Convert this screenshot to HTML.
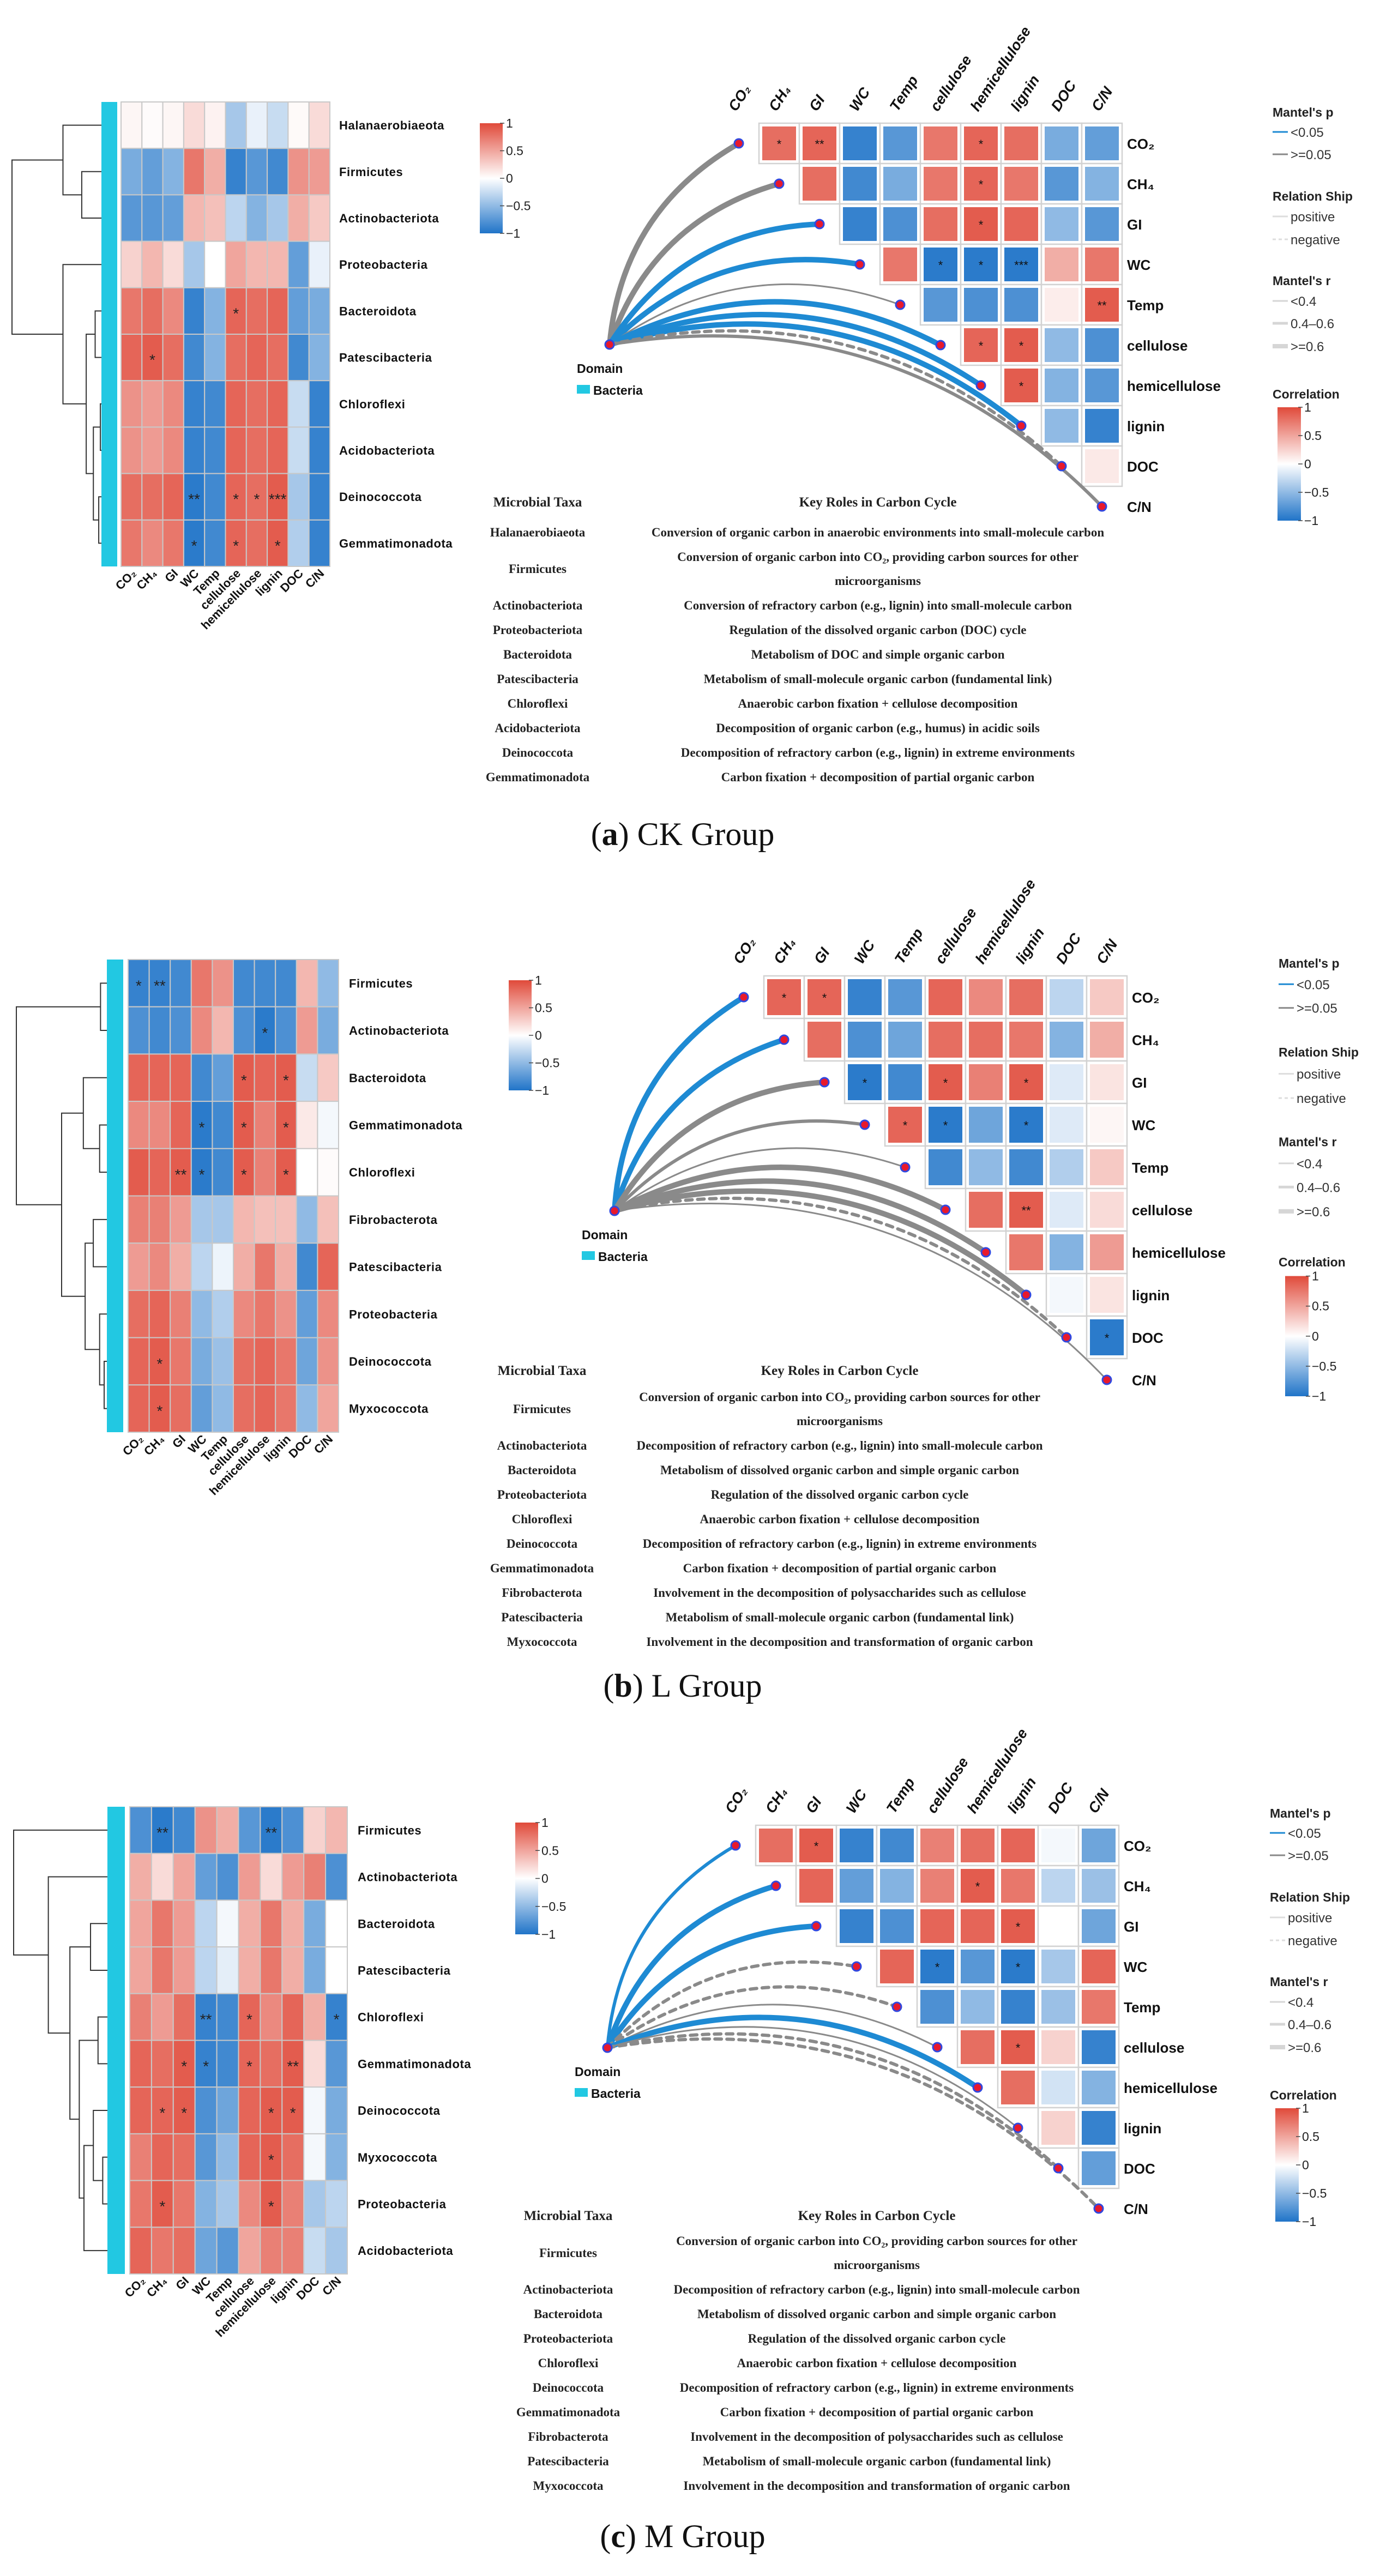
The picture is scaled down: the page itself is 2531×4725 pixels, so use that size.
<!DOCTYPE html>
<html><head><meta charset="utf-8">
<style>
html,body{margin:0;padding:0;background:#fff;}
svg{display:block;}
text{font-family:"Liberation Sans","DejaVu Sans",sans-serif;}
.serif{font-family:"Liberation Serif","DejaVu Serif",serif;}
</style></head>
<body>
<svg id="fig" xmlns="http://www.w3.org/2000/svg" width="2531" height="4725" viewBox="0 0 2531 4725"></svg>
<script>
// ---------- DATA ----------
const envCols = ["CO₂","CH₄","GI","WC","Temp","cellulose","hemicellulose","lignin","DOC","C/N"];

const taxaA = ["Halanaerobiaeota","Firmicutes","Actinobacteriota","Proteobacteria","Bacteroidota","Patescibacteria","Chloroflexi","Acidobacteriota","Deinococcota","Gemmatimonadota"];
const heatA = [
 [0.05,0.02,0.05,0.2,0.07,-0.4,-0.1,-0.25,0.03,0.2],
 [-0.6,-0.7,-0.55,0.75,0.45,-0.9,-0.75,-0.85,0.6,0.55],
 [-0.75,-0.75,-0.7,0.4,0.35,-0.3,-0.55,-0.4,0.45,0.3],
 [0.25,0.4,0.2,-0.4,0.0,0.5,0.4,0.4,-0.7,-0.1],
 [0.75,0.8,0.65,-0.9,-0.55,0.85,0.8,0.85,-0.7,-0.6],
 [0.85,0.9,0.8,-0.85,-0.55,0.8,0.85,0.8,-0.85,-0.55],
 [0.6,0.55,0.65,-0.9,-0.85,0.85,0.8,0.85,-0.25,-0.9],
 [0.6,0.55,0.65,-0.9,-0.85,0.85,0.8,0.85,-0.25,-0.9],
 [0.8,0.8,0.85,-0.95,-0.85,0.85,0.8,0.9,-0.4,-0.9],
 [0.75,0.65,0.75,-0.95,-0.85,0.85,0.8,0.9,-0.35,-0.9]];
const heatStarsA = [[4,5,"*"],[5,1,"*"],[8,3,"**"],[8,5,"*"],[8,6,"*"],[8,7,"***"],[9,3,"*"],[9,5,"*"],[9,7,"*"]];

const taxaB = ["Firmicutes","Actinobacteriota","Bacteroidota","Gemmatimonadota","Chloroflexi","Fibrobacterota","Patescibacteria","Proteobacteria","Deinococcota","Myxococcota"];
const heatB = [
 [-0.9,-0.9,-0.85,0.75,0.6,-0.85,-0.85,-0.85,0.4,-0.5],
 [-0.8,-0.85,-0.8,0.65,0.4,-0.8,-0.95,-0.8,0.55,-0.6],
 [0.85,0.85,0.85,-0.85,-0.7,0.9,0.85,0.9,-0.25,0.3],
 [0.65,0.65,0.85,-0.95,-0.85,0.9,0.7,0.9,0.12,-0.05],
 [0.9,0.85,0.9,-0.95,-0.85,0.9,0.7,0.9,0.0,0.02],
 [0.7,0.7,0.55,-0.4,-0.4,0.4,0.35,0.35,-0.5,0.35],
 [0.55,0.65,0.45,-0.3,-0.08,0.45,0.75,0.45,-0.85,0.85],
 [0.8,0.85,0.7,-0.5,-0.35,0.65,0.75,0.6,-0.7,0.65],
 [0.85,0.9,0.75,-0.6,-0.45,0.8,0.85,0.75,-0.65,0.6],
 [0.85,0.9,0.8,-0.7,-0.5,0.8,0.85,0.75,-0.5,0.5]];
const heatStarsB = [[0,0,"*"],[0,1,"**"],[1,6,"*"],[2,5,"*"],[2,7,"*"],[3,3,"*"],[3,5,"*"],[3,7,"*"],[4,2,"**"],[4,3,"*"],[4,5,"*"],[4,7,"*"],[8,1,"*"],[9,1,"*"]];

const taxaC = ["Firmicutes","Actinobacteriota","Bacteroidota","Patescibacteria","Chloroflexi","Gemmatimonadota","Deinococcota","Myxococcota","Proteobacteria","Acidobacteriota"];
const heatC = [
 [-0.8,-0.95,-0.85,0.6,0.45,-0.75,-0.95,-0.8,0.25,0.4],
 [0.45,0.2,0.5,-0.7,-0.8,0.55,0.2,0.55,0.7,-0.8],
 [0.5,0.75,0.55,-0.3,-0.05,0.45,0.75,0.45,-0.6,0.0],
 [0.5,0.75,0.55,-0.3,-0.12,0.45,0.75,0.45,-0.6,0.0],
 [0.7,0.55,0.8,-0.9,-0.85,0.85,0.65,0.85,0.45,-0.9],
 [0.85,0.8,0.9,-0.9,-0.85,0.85,0.8,0.9,0.2,-0.75],
 [0.85,0.85,0.9,-0.8,-0.65,0.85,0.9,0.9,-0.05,-0.6],
 [0.7,0.85,0.8,-0.75,-0.5,0.85,0.9,0.8,-0.05,-0.55],
 [0.75,0.9,0.75,-0.55,-0.4,0.65,0.9,0.7,-0.4,-0.3],
 [0.85,0.75,0.8,-0.65,-0.75,0.5,0.7,0.7,-0.25,-0.4]];
const heatStarsC = [[0,1,"**"],[0,6,"**"],[4,3,"**"],[4,5,"*"],[4,9,"*"],[5,2,"*"],[5,3,"*"],[5,5,"*"],[5,7,"**"],[6,1,"*"],[6,2,"*"],[6,6,"*"],[6,7,"*"],[7,6,"*"],[8,1,"*"],[8,6,"*"]];

const treeA = [1,[0.43,0,[0.22,1,2]],[0.43,3,[0.17,[0.07,4,5],[0.09,[0.012,6,7],[0.03,8,9]]]]];
const treeB = [1,[0.07,0,1],[0.5,[0.26,2,[0.08,3,4]],[0.24,[0.15,5,6],[0.08,7,[0.03,8,9]]]]];
const treeC = [1,0,[0.63,1,[0.4,[0.18,2,3],[0.3,[0.1,4,5],[0.25,[0.15,6,[0.05,7,8]],9]]]]];

const triA = [
 [0.8,0.85,-0.9,-0.75,0.75,0.85,0.8,-0.6,-0.7],
 [0.8,-0.85,-0.6,0.75,0.85,0.75,-0.75,-0.55],
 [-0.9,-0.8,0.8,0.9,0.85,-0.5,-0.75],
 [0.75,-0.95,-0.95,-0.95,0.45,0.75],
 [-0.75,-0.8,-0.8,0.1,0.9],
 [0.85,0.9,-0.5,-0.8],
 [0.9,-0.55,-0.75],
 [-0.5,-0.9],
 [0.12]];
const triStarsA = [[0,1,"*"],[0,2,"**"],[0,6,"*"],[1,6,"*"],[2,6,"*"],[3,5,"*"],[3,6,"*"],[3,7,"***"],[4,9,"**"],[5,6,"*"],[5,7,"*"],[6,7,"*"]];
const triB = [
 [0.85,0.85,-0.9,-0.75,0.85,0.65,0.8,-0.3,0.3],
 [0.8,-0.8,-0.65,0.8,0.8,0.75,-0.55,0.45],
 [-0.95,-0.85,0.9,0.7,0.9,-0.15,0.15],
 [0.85,-0.95,-0.65,-0.95,-0.15,0.05],
 [-0.85,-0.5,-0.85,-0.35,0.3],
 [0.8,0.9,-0.15,0.2],
 [0.75,-0.55,0.55],
 [-0.05,0.15],
 [-0.95]];
const triStarsB = [[0,1,"*"],[0,2,"*"],[2,3,"*"],[2,5,"*"],[2,7,"*"],[3,4,"*"],[3,5,"*"],[3,7,"*"],[5,7,"**"],[8,9,"*"]];
const triC = [
 [0.8,0.9,-0.9,-0.85,0.7,0.8,0.85,-0.05,-0.65],
 [0.85,-0.7,-0.55,0.7,0.9,0.75,-0.3,-0.45],
 [-0.9,-0.8,0.85,0.85,0.9,0.0,-0.65],
 [0.85,-0.95,-0.75,-0.95,-0.4,0.85],
 [-0.8,-0.5,-0.9,-0.45,0.75],
 [0.8,0.9,0.25,-0.9],
 [0.8,-0.2,-0.55],
 [0.25,-0.9],
 [-0.7]];
const triStarsC = [[0,2,"*"],[1,6,"*"],[2,7,"*"],[3,5,"*"],[3,7,"*"],[5,7,"*"]];

const sigA = [0,0,1,1,0,1,1,1,0,0];
const rclsA = [2,2,2,2,0,2,2,2,1,1];
const negA = [0,0,0,0,0,0,0,0,1,0];
const sigB = [1,1,0,0,0,0,0,0,0,0];
const rclsB = [2,2,2,1,0,2,2,2,1,0];
const negB = [0,0,0,0,0,0,0,0,1,0];
const sigC = [1,1,1,0,0,0,1,0,0,0];
const rclsC = [1,2,2,1,1,0,2,0,1,1];
const negC = [0,0,0,1,1,0,0,0,1,1];

const tableTaxaA = ["Halanaerobiaeota","Firmicutes","Actinobacteriota","Proteobacteriota","Bacteroidota","Patescibacteria","Chloroflexi","Acidobacteriota","Deinococcota","Gemmatimonadota"];
const tableRolesA = ["Conversion of organic carbon in anaerobic environments into small-molecule carbon",
 "Conversion of organic carbon into CO₂, providing carbon sources for other|microorganisms",
 "Conversion of refractory carbon (e.g., lignin) into small-molecule carbon",
 "Regulation of the dissolved organic carbon (DOC) cycle",
 "Metabolism of DOC and simple organic carbon",
 "Metabolism of small-molecule organic carbon (fundamental link)",
 "Anaerobic carbon fixation + cellulose decomposition",
 "Decomposition of organic carbon (e.g., humus) in acidic soils",
 "Decomposition of refractory carbon (e.g., lignin) in extreme environments",
 "Carbon fixation + decomposition of partial organic carbon"];
const tableTaxaBC = ["Firmicutes","Actinobacteriota","Bacteroidota","Proteobacteriota","Chloroflexi","Deinococcota","Gemmatimonadota","Fibrobacterota","Patescibacteria","Myxococcota"];
const tableRolesBC = ["Conversion of organic carbon into CO₂, providing carbon sources for other|microorganisms",
 "Decomposition of refractory carbon (e.g., lignin) into small-molecule carbon",
 "Metabolism of dissolved organic carbon and simple organic carbon",
 "Regulation of the dissolved organic carbon cycle",
 "Anaerobic carbon fixation + cellulose decomposition",
 "Decomposition of refractory carbon (e.g., lignin) in extreme environments",
 "Carbon fixation + decomposition of partial organic carbon",
 "Involvement in the decomposition of polysaccharides such as cellulose",
 "Metabolism of small-molecule organic carbon (fundamental link)",
 "Involvement in the decomposition and transformation of organic carbon"];
const colorbarTicks = ["1","0.5","0","−0.5","−1"];

// ---------- DRAWING ----------
const NS = "http://www.w3.org/2000/svg";
const svg = document.getElementById("fig");
function mk(tag, attrs, parent){
  const e = document.createElementNS(NS, tag);
  for (const k in attrs) e.setAttribute(k, attrs[k]);
  (parent || svg).appendChild(e);
  return e;
}
function txt(str, attrs, parent){
  const e = mk("text", attrs, parent);
  e.textContent = str;
  return e;
}
function color(v){
  v = Math.max(-1, Math.min(1, v));
  const c = v >= 0 ? [224,74,58] : [32,116,200];
  const t = Math.abs(v);
  return "rgb(" + c.map(x => Math.round(255 + (x - 255) * t)).join(",") + ")";
}
let gid = 0;
function gradient(){
  let defs = svg.querySelector("defs");
  if (!defs) defs = mk("defs", {});
  const id = "cg" + (gid++);
  const g = mk("linearGradient", {id: id, x1: 0, y1: 0, x2: 0, y2: 1}, defs);
  [1, 0.5, 0, -0.5, -1].forEach((v, i) => mk("stop", {offset: (i * 25) + "%", "stop-color": color(v)}, g));
  return id;
}
function colorbar(x, y0, y1, w, parent, name){
  const g = mk("g", {}, parent);
  
  
  const id = gradient();
  const r = mk("rect", {x: x, y: y0, width: w, height: y1 - y0, fill: "url(#" + id + ")"}, g);
  
  
  colorbarTicks.forEach((t, i) => {
    const ty = y0 + (y1 - y0) * i / (colorbarTicks.length - 1);
    const tk = mk("line", {x1: x + w - 5, x2: x + w + 3, y1: ty, y2: ty, stroke: "#444", "stroke-width": 1.5}, g);
    
    
    const tl = txt(t, {x: x + w + 6, y: ty + 8, "font-size": 23, fill: "#222"}, g);
    
    
  });
}

function drawHeat(cfg, rows, vals, stars, tree, tag){
  const g = mk("g", {});
  
  
  const nR = rows.length, nC = envCols.length;
  const cw = (cfg.x1 - cfg.x0) / nC, ch = (cfg.y1 - cfg.y0) / nR;
  const strip = mk("rect", {x: cfg.s0, y: cfg.y0, width: cfg.s1 - cfg.s0, height: cfg.y1 - cfg.y0, fill: "#22C8E2"}, g);
  
  
  vals.forEach((row, i) => row.forEach((v, j) => {
    const c = mk("rect", {x: cfg.x0 + j * cw, y: cfg.y0 + i * ch, width: cw, height: ch, fill: color(v), stroke: "#c8c8c8", "stroke-width": 2}, g);
    
    
  }));
  stars.forEach(s => {
    const st = txt(s[2], {x: cfg.x0 + (s[1] + 0.5) * cw, y: cfg.y0 + (s[0] + 0.5) * ch + 14, "font-size": 28, "text-anchor": "middle", fill: "#222"}, g);
    
    
  });
  rows.forEach((r, i) => {
    const t = txt(r, {x: cfg.lx, y: cfg.y0 + (i + 0.5) * ch + 8, "font-size": 22, "font-weight": "bold", fill: "#111", "letter-spacing": "0.6"}, g);
    
    
  });
  envCols.forEach((c, j) => {
    const cx = cfg.x0 + (j + 0.5) * cw + 10, cy = cfg.y1 + 14;
    const t = txt(c, {x: cx, y: cy, "font-size": 22, "font-weight": "bold", "text-anchor": "end", fill: "#111", transform: "rotate(-45 " + cx + " " + cy + ")"}, g);
    
    
  });
  const span = cfg.s0 - cfg.dl;
  function rec(node){
    if (typeof node === "number") return {x: cfg.s0, y: cfg.y0 + (node + 0.5) * ch};
    const a = rec(node[1]), b = rec(node[2]);
    const x = cfg.s0 - node[0] * span;
    const p = mk("path", {d: "M" + a.x + "," + a.y + "H" + x + "V" + b.y + "H" + b.x, fill: "none", stroke: "#333", "stroke-width": 2}, g);
    
    
    return {x: x, y: (a.y + b.y) / 2};
  }
  rec(tree);
  colorbar(cfg.cbx, cfg.cby0, cfg.cby1, 42, g, 'heatmap-colorbar-' + tag);
}

function drawTri(cfg, tri, tstars, sig, rcls, neg, tag){
  const g = mk("g", {});
  
  
  const gl = cfg.gl, gt = cfg.gt, cw = cfg.cw, ch = cfg.ch;
  tri.forEach((row, i) => row.forEach((v, k) => {
    const j = i + 1 + k;
    const x = gl + (j - 1) * cw, y = gt + i * ch;
    const o = mk("rect", {x: x, y: y, width: cw, height: ch, fill: "#fff", stroke: "#d2d2d2", "stroke-width": 2.5}, g);
    
    
    const c = mk("rect", {x: x + 6, y: y + 6, width: cw - 12, height: ch - 12, fill: color(v)}, g);
    
    
  }));
  tstars.forEach(s => {
    const x = gl + (s[1] - 1 + 0.5) * cw, y = gt + (s[0] + 0.5) * ch + 9;
    const st = txt(s[2], {x: x, y: y, "font-size": 22, "text-anchor": "middle", fill: "#111"}, g);
    
    
  });
  envCols.forEach((c, i) => {
    const t = txt(c, {x: gl + 9 * cw + 9, y: gt + (i + 0.5) * ch + 10, "font-size": 26, "font-weight": "bold", fill: "#111"}, g);
    
    
    const cx = gl - 42 + cw * i, cy = gt - 20;
    const t2 = txt(c, {x: cx, y: cy, "font-size": 27, "font-weight": "bold", "font-style": "italic", fill: "#111", transform: "rotate(-57 " + cx + " " + cy + ")"}, g);
    
    
  });
  const D = cfg.dom;
  const widths = [3, 6, 10];
  envCols.forEach((c, i) => {
    const ex = gl + cw * i - cw / 2, ey = gt + ch * i + ch / 2;
    const dx = ex - D.x, dy = ey - D.y, k = 0.26;
    const cx = (D.x + ex) / 2 + k * dy, cy = (D.y + ey) / 2 - k * dx;
    const p = mk("path", {d: "M" + D.x + "," + D.y + "Q" + cx + "," + cy + " " + ex + "," + ey, fill: "none",
      stroke: sig[i] ? "#1E8AD3" : "#8a8a8a", "stroke-width": widths[rcls[i]], "stroke-linecap": "round",
      "stroke-dasharray": neg[i] ? "12 10" : "none"}, g);
    
    
  });
  envCols.forEach((c, i) => {
    const ex = gl + cw * i - cw / 2, ey = gt + ch * i + ch / 2;
    const d = mk("circle", {cx: ex, cy: ey, r: 8, fill: "#E8192C", stroke: "#3048E0", "stroke-width": 3}, g);
    
    
  });
  const dd = mk("circle", {cx: D.x, cy: D.y, r: 8, fill: "#E8192C", stroke: "#3048E0", "stroke-width": 3}, g);
  
  
  const dl = txt("Domain", {x: D.x - 60, y: D.y + 52, "font-size": 23, "font-weight": "bold", fill: "#111"}, g);
  
  
  const sq = mk("rect", {x: D.x - 60, y: D.y + 74, width: 24, height: 16, fill: "#22C8E2"}, g);
  
  
  const bl = txt("Bacteria", {x: D.x - 30, y: D.y + 92, "font-size": 23, "font-weight": "bold", fill: "#111"}, g);
  
  

  const L = cfg.leg, y0 = L.y, s = L.s;
  const lg = mk("g", {}, g);
  
  
  const heads = [["Mantel's p", 0], ["Relation Ship", 154], ["Mantel's r", 309], ["Correlation", 517]];
  heads.forEach(h => {
    const t = txt(h[0], {x: L.x, y: y0 + h[1] * s + 10, "font-size": 23, "font-weight": "bold", fill: "#222"}, lg);
    
    
  });
  const items = [["<0.05", 38, "#1E8AD3", 3, "none"], [">=0.05", 79, "#888", 3, "none"],
    ["positive", 193, "#ddd", 3, "none"], ["negative", 235, "#ddd", 3, "6 5"],
    ["<0.4", 348, "#d6d6d6", 3, "none"], ["0.4–0.6", 389, "#d6d6d6", 5, "none"], [">=0.6", 431, "#d6d6d6", 8, "none"]];
  items.forEach(it => {
    const yy = y0 + it[1] * s;
    const ln = mk("line", {x1: L.x, x2: L.x + 28, y1: yy, y2: yy, stroke: it[2], "stroke-width": it[3], "stroke-dasharray": it[4]}, lg);
    
    
    const t = txt(it[0], {x: L.x + 33, y: yy + 9, "font-size": 24, fill: "#333"}, lg);
    
    
  });
  colorbar(L.x + L.bx, y0 + 543 * s, y0 + 751 * s, 43, lg, 'correlation-colorbar-' + tag);
}

function drawTable(cfg, taxa, roles, tag){
  const g = mk("g", {"class": "serif"});
  
  
  const h1 = txt("Microbial Taxa", {x: cfg.tx, y: cfg.hy, "font-size": 25, "font-weight": "bold", "text-anchor": "middle", fill: "#222", "class": "serif"}, g);
  
  
  const h2 = txt("Key Roles in Carbon Cycle", {x: cfg.rx, y: cfg.hy, "font-size": 25, "font-weight": "bold", "text-anchor": "middle", fill: "#222", "class": "serif"}, g);
  
  
  let y = cfg.y;
  taxa.forEach((t, i) => {
    const parts = roles[i].split("|");
    if (parts.length > 1){
      const a = txt(t, {x: cfg.tx, y: y + 22, "font-size": 23, "font-weight": "bold", "text-anchor": "middle", fill: "#222", "class": "serif"}, g);
      
      
      parts.forEach((p, k) => {
        const b = txt(p, {x: cfg.rx, y: y + k * 44, "font-size": 23, "font-weight": "bold", "text-anchor": "middle", fill: "#222", "class": "serif"}, g);
        
        
      });
      y += 44 + cfg.step;
    } else {
      const a = txt(t, {x: cfg.tx, y: y, "font-size": 23, "font-weight": "bold", "text-anchor": "middle", fill: "#222", "class": "serif"}, g);
      
      
      const b = txt(roles[i], {x: cfg.rx, y: y, "font-size": 23, "font-weight": "bold", "text-anchor": "middle", fill: "#222", "class": "serif"}, g);
      
      
      y += cfg.step;
    }
  });
}

function caption(letter, rest, y, tag){
  const t = mk("text", {x: 1252, y: y, "font-size": 60, "text-anchor": "middle", fill: "#111", "class": "serif"});
  
  
  const a = mk("tspan", {}, t); a.textContent = "(";
  const b = mk("tspan", {"font-weight": "bold"}, t); b.textContent = letter;
  const c = mk("tspan", {}, t); c.textContent = ") " + rest;
}

drawHeat({x0:222,x1:605,y0:187,y1:1039,s0:186,s1:215,dl:22,lx:622,cbx:880,cby0:226,cby1:428}, taxaA, heatA, heatStarsA, treeA, "a");
drawTri({gl:1392,gt:226,cw:74,ch:74,dom:{x:1118,y:632},leg:{x:2334,y:204,s:1,bx:9}}, triA, triStarsA, sigA, rclsA, negA, "a");
drawTable({tx:986,rx:1610,hy:929,y:984,step:45}, tableTaxaA, tableRolesA, "a");
caption("a", "CK Group", 1550, "a");

drawHeat({x0:235,x1:621,y0:1760,y1:2627,s0:196,s1:226,dl:30,lx:640,cbx:933,cby0:1798,cby1:2000}, taxaB, heatB, heatStarsB, treeB, "b");
drawTri({gl:1401,gt:1790,cw:74,ch:78,dom:{x:1127,y:2221},leg:{x:2345,y:1765,s:1.06,bx:12}}, triB, triStarsB, sigB, rclsB, negB, "b");
drawTable({tx:994,rx:1540,hy:2522,y:2570,step:45}, tableTaxaBC, tableRolesBC, "b");
caption("b", "L Group", 3112, "b");

drawHeat({x0:238,x1:637,y0:3314,y1:4171,s0:197,s1:229,dl:25,lx:656,cbx:945,cby0:3343,cby1:3548}, taxaC, heatC, heatStarsC, treeC, "c");
drawTri({gl:1386,gt:3348,cw:74,ch:74,dom:{x:1114,y:3756},leg:{x:2329,y:3324,s:1,bx:10}}, triC, triStarsC, sigC, rclsC, negC, "c");
drawTable({tx:1042,rx:1608,hy:4072,y:4118,step:45}, tableTaxaBC, tableRolesBC, "c");
caption("c", "M Group", 4672, "c");
</script>
</body></html>
